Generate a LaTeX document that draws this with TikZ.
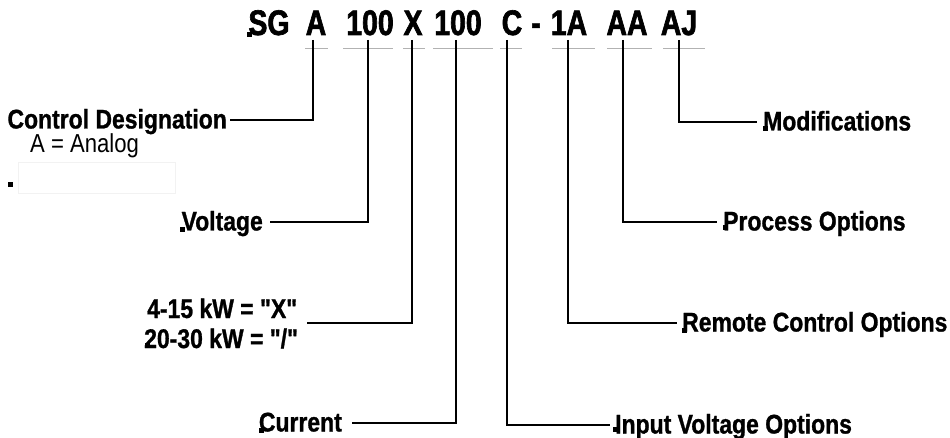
\documentclass[tikz,border=0pt]{standalone}
\usepackage{fontspec}
\setmainfont{Liberation Sans}
\newfontfamily\labfont{Liberation Sans}[FakeStretch=0.85, BoldFeatures={FakeBold=1}]
\newfontfamily\hdfont{Liberation Sans}[FakeStretch=0.8, BoldFeatures={FakeBold=1.8}]
\begin{document}
\begin{tikzpicture}[x=1pt,y=-1pt,
  tok/.style={font=\hdfont\bfseries\fontsize{35.5}{38}\selectfont, inner sep=0pt, anchor=base},
  lab/.style={font=\labfont\bfseries\fontsize{27}{30}\selectfont, inner ysep=0pt, text height=17pt, text depth=0pt},
  plain/.style={font=\labfont\fontsize{26}{30}\selectfont, inner sep=0pt, anchor=base west},
  conn/.style={line width=1.8pt},
  uline/.style={line width=0.8pt, draw=black!30},
  dotmark/.style={fill=black}]
\useasboundingbox (0,0) rectangle (950,438);
% header tokens
\node[tok] (tSG) at (269,35) {SG};
\node[tok] (tA) at (316,35) {A};
\node[tok] (tV) at (370,35) {100};
\node[tok] (tX) at (413,35) {X};
\node[tok] (tI) at (458,35) {100};
\node[tok] (tC) at (512,35) {C};
\node[tok] (tD) at (536,35) {-};
\node[tok] (t1A) at (569,35) {1A};
\node[tok] (tAA) at (627,35) {AA};
\node[tok] (tAJ) at (679,35) {AJ};
% gray underlines
\foreach \a/\b in {305/328,343/393,403/425,433/493,500/522,552/595,607/652,663/705}
  \draw[uline] (\a,48) -- (\b,48);
% connector tops
\coordinate (pA) at (313,40);
\coordinate (pV) at (368,40);
\coordinate (pX) at (412,40);
\coordinate (pI) at (456,40);
\coordinate (pC) at (507,40);
\coordinate (p1A) at (568,40);
\coordinate (pAA) at (623,40);
\coordinate (pAJ) at (679,40);
% labels left
\node[lab, anchor=east, inner xsep=3pt] (lCD) at (230,120) {Control Designation};
\node[plain] (lAn) at (30,153) {A = Analog};
\node[lab, anchor=east, inner xsep=7pt] (lVo) at (270,222) {Voltage};
\node[lab, anchor=base west, inner sep=0pt] (lkw1) at (147,318) {4-15 kW = "X"};
\node[lab, anchor=base west, inner sep=0pt] (lkw2) at (144,348) {20-30 kW = "/"};
\coordinate (eX) at (307,323);
\node[lab, anchor=east, inner xsep=10pt] (lCu) at (352,423) {Current};
% labels right
\node[lab, anchor=west, inner xsep=6pt] (lMo) at (757,122) {Modifications};
\node[lab, anchor=west, inner xsep=6pt] (lPr) at (717,222) {Process Options};
\node[lab, anchor=west, inner xsep=5pt] (lRe) at (677,323) {Remote Control Options};
\node[lab, anchor=west, inner xsep=5pt] (lIn) at (610,425) {Input Voltage Options};
% connectors
\draw[conn] (pA) |- (lCD.east);
\draw[conn] (pV) |- (lVo.east);
\draw[conn] (pX) |- (eX);
\draw[conn] (pI) |- (lCu.east);
\draw[conn] (pC) |- (lIn.west);
\draw[conn] (p1A) |- (lRe.west);
\draw[conn] (pAA) |- (lPr.west);
\draw[conn] (pAJ) |- (lMo.west);
% faint box
\draw[black!5, line width=0.8pt] (18,162) rectangle (175,193);
% small marks
\foreach \x/\y in {247/32,8/182,180/227,145/343,259/428,613/427,682/328,723/225,763/126}
  \fill[dotmark] (\x,\y) rectangle +(5,5);
\end{tikzpicture}
\end{document}
